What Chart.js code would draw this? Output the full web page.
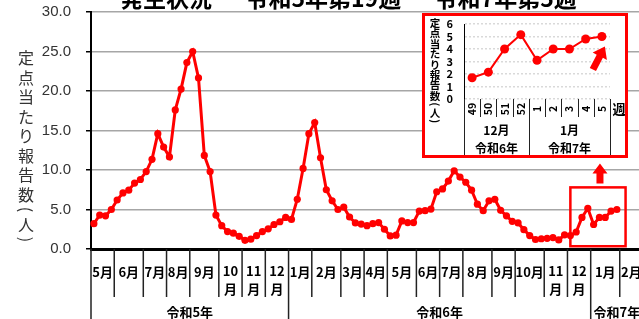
<!DOCTYPE html>
<html>
<head>
<meta charset="utf-8">
<script src="https://cdn.jsdelivr.net/npm/chart.js@4.4.1/dist/chart.umd.min.js"></script>
<style>
  html, body { margin: 0; padding: 0; width: 639px; height: 319px; overflow: hidden; background: #fff; }
  #main { position: absolute; left: 0; top: 0; }
  #insetBox { position: absolute; left: 422px; top: 13px; width: 206px; height: 145px;
              border: 3px solid #ff0000; box-sizing: border-box; background: #fff; }
  #inset { display: block; }
</style>
</head>
<body>
<canvas id="main" width="660" height="319"></canvas>
<div id="insetBox"><canvas id="inset" width="200" height="139"></canvas></div>
<script>
// 定点当たり報告数（人）, 令和5年第19週 ～ 令和7年第5週
const values = [
  3.2, 4.3, 4.2, 5.0, 6.2, 7.1, 7.45, 8.35, 8.8, 9.8,
  11.35, 14.6, 12.9, 11.65, 17.6, 20.25, 23.6, 25.0, 21.65, 11.85,
  9.8, 4.3, 2.95, 2.2, 2.0, 1.6, 1.1, 1.25, 1.7, 2.2,
  2.55, 3.1, 3.45, 4.0,
  3.75, 6.3, 10.2, 14.6, 16.0, 11.55, 7.5, 6.1, 5.0, 5.3,
  4.05, 3.3, 3.15, 2.95, 3.2, 3.35, 2.5, 1.65, 1.75, 3.55,
  3.35, 3.35, 4.8, 4.85, 5.05, 7.25, 7.6, 8.6, 9.9, 9.1,
  8.45, 7.45, 5.67, 4.85, 6.1, 6.3, 4.9, 4.2, 3.5, 3.3,
  2.45, 1.7, 1.2, 1.3, 1.35, 1.45, 1.15, 1.8, 1.7, 2.15,
  4.0, 5.15,
  3.1, 4.0, 4.0, 4.8, 5.0
];

const months = ['5月', '6月', '7月', '8月', '9月', '10月', '11月', '12月',
  '1月', '2月', '3月', '4月', '5月', '6月', '7月', '8月', '9月', '10月', '11月', '12月',
  '1月', '2月'];
const monthWeeks = [4, 5, 4, 4, 5, 4, 4, 4,
  4, 5, 4, 4, 5, 4, 4, 5, 4, 5, 4, 4,
  5, 4];
const years = ['令和5年', '令和6年', '令和7年'];
const yearWeeks = [34, 52, 9];

const insetWeeks = ['49', '50', '51', '52', '1', '2', '3', '4', '5'];
const insetValues = [1.7, 2.15, 4.0, 5.15, 3.1, 4.0, 4.0, 4.8, 5.0];
const insetMonths = ['12月', '1月'];
const insetMonthWeeks = [4, 5];
const insetYears = ['令和6年', '令和7年'];

const titleText = '発生状況 － 令和5年第19週 － 令和7年第5週';
const yTitle = ['定', '点', '当', 'た', 'り', '報', '告', '数', '(', '人', ')'];

const JP = '"Noto Sans CJK JP", sans-serif';
const RED = '#ff0000';

// one category per week
const labels = [];
months.forEach((m, i) => { for (let j = 0; j < monthWeeks[i]; j++) labels.push(m); });
const series = values.concat(new Array(labels.length - values.length).fill(null));

function stackText(ctx, chars, x, y, pitch, parenPitch) {
  let cy = y;
  chars.forEach((c, i) => {
    const paren = c === '(' || c === ')';
    if (i > 0) {
      const prevParen = chars[i - 1] === '(' || chars[i - 1] === ')';
      cy += (paren || prevParen) ? parenPitch : pitch;
    }
    ctx.save();
    ctx.translate(x, cy);
    if (paren) ctx.rotate(Math.PI / 2);
    ctx.fillText(c, 0, 0);
    ctx.restore();
  });
}

function blockArrow(ctx, tx, ty, fx, fy, headLen, headHalf, shaftHalf) {
  const dx = tx - fx, dy = ty - fy;
  const len = Math.hypot(dx, dy);
  const ux = dx / len, uy = dy / len;
  const nx = -uy, ny = ux;
  const bx = tx - ux * headLen, by = ty - uy * headLen;
  ctx.beginPath();
  ctx.moveTo(tx, ty);
  ctx.lineTo(bx + nx * headHalf, by + ny * headHalf);
  ctx.lineTo(bx + nx * shaftHalf, by + ny * shaftHalf);
  ctx.lineTo(fx + nx * shaftHalf, fy + ny * shaftHalf);
  ctx.lineTo(fx - nx * shaftHalf, fy - ny * shaftHalf);
  ctx.lineTo(bx - nx * shaftHalf, by - ny * shaftHalf);
  ctx.lineTo(bx - nx * headHalf, by - ny * headHalf);
  ctx.closePath();
  ctx.fill();
}

const mainDecor = {
  id: 'mainDecor',
  afterDraw(chart) {
    const ctx = chart.ctx;
    const xs = chart.scales.x, ys = chart.scales.y;
    const band = xs.getPixelForValue(1) - xs.getPixelForValue(0);
    const edge = i => xs.getPixelForValue(i) - band / 2;
    const axisY = chart.chartArea.bottom;
    const H = chart.height;

    ctx.save();
    // title (top part is outside the picture)
    ctx.fillStyle = '#000';
    ctx.font = 'bold 23px ' + JP;
    ctx.textAlign = 'left';
    ctx.textBaseline = 'alphabetic';
    ctx.fillText(titleText, 120, 7);

    // y title, stacked
    ctx.fillStyle = '#333';
    ctx.font = '16px ' + JP;
    ctx.textAlign = 'center';
    ctx.textBaseline = 'middle';
    stackText(ctx, yTitle, 26, 58, 19.5, 15);

    // month row
    ctx.strokeStyle = '#222';
    ctx.lineWidth = 1.5;
    ctx.fillStyle = '#000';
    ctx.font = 'bold 13px ' + JP;
    const yearStarts = [];
    let acc = 0;
    yearWeeks.forEach(n => { yearStarts.push(acc); acc += n; });
    let start = 0;
    months.forEach((m, i) => {
      const x0 = edge(start), x1 = edge(start + monthWeeks[i]);
      const isYear = yearStarts.includes(start);
      ctx.beginPath();
      ctx.moveTo(x0, axisY);
      ctx.lineTo(x0, isYear ? H : 297);
      ctx.stroke();
      const cx = (x0 + x1) / 2;
      if (ctx.measureText(m).width > x1 - x0) {
        ctx.fillText(m.slice(0, -1), cx, 271);
        ctx.fillText('月', cx, 289);
      } else {
        ctx.fillText(m, cx, 272);
      }
      start += monthWeeks[i];
    });
    ctx.beginPath();
    ctx.moveTo(edge(start), axisY);
    ctx.lineTo(edge(start), H);
    ctx.stroke();

    // year row
    years.forEach((y, i) => {
      const x0 = edge(yearStarts[i]), x1 = edge(yearStarts[i] + yearWeeks[i]);
      ctx.fillText(y, (x0 + x1) / 2, 312);
    });

    // highlight of the last weeks + arrow up to the inset
    const n = values.length;
    const rl = xs.getPixelForValue(n - insetValues.length);
    const rr = xs.getPixelForValue(n - 1) + band * 1.5;
    const rt = ys.getPixelForValue(7.8);
    const rb = ys.getPixelForValue(0.35);
    ctx.strokeStyle = RED;
    ctx.lineWidth = 2.5;
    ctx.strokeRect(rl, rt, rr - rl, rb - rt);
    ctx.fillStyle = RED;
    const ax = (rl + rr) / 2 + 2;
    blockArrow(ctx, ax, rt - 24, ax, rt - 4, 10, 7.5, 3.5);
    ctx.restore();
  }
};

new Chart(document.getElementById('main'), {
  type: 'line',
  data: {
    labels: labels,
    datasets: [{
      data: series,
      borderColor: RED,
      backgroundColor: RED,
      borderWidth: 3,
      pointRadius: 3.6,
      pointBorderWidth: 0,
      pointBackgroundColor: RED,
      tension: 0
    }]
  },
  options: {
    responsive: false,
    animation: false,
    layout: { padding: { top: 12, right: 17, bottom: 0, left: 0 } },
    plugins: { legend: { display: false }, tooltip: { enabled: false } },
    scales: {
      x: {
        offset: true,
        grid: { display: false },
        ticks: { display: false },
        border: { display: true, color: '#000', width: 3 },
        afterFit(s) { s.height = 70; }
      },
      y: {
        min: 0,
        max: 30,
        ticks: {
          stepSize: 5,
          callback: v => v.toFixed(1),
          font: { family: '"Liberation Sans", sans-serif', size: 15 },
          color: '#333',
          padding: 15
        },
        grid: { color: '#a6a6a6', lineWidth: 1.5, tickLength: 5, tickColor: '#000' },
        border: { display: true, color: '#000', width: 2 },
        afterFit(s) { s.width = 91; s.paddingTop = 0; s.paddingBottom = 0; }
      }
    }
  },
  plugins: [mainDecor]
});

const insetDecor = {
  id: 'insetDecor',
  afterDraw(chart) {
    const ctx = chart.ctx;
    const xs = chart.scales.x;
    const band = xs.getPixelForValue(1) - xs.getPixelForValue(0);
    const edge = i => xs.getPixelForValue(i) - band / 2;
    const axisY = chart.chartArea.bottom;
    const H = chart.height;

    ctx.save();
    ctx.fillStyle = '#000';
    ctx.textAlign = 'center';
    ctx.textBaseline = 'middle';

    // y title
    ctx.font = 'bold 10.5px ' + JP;
    stackText(ctx, yTitle, 10, 7, 10.4, 8.5);

    // week labels, rotated
    ctx.font = 'bold 10.5px ' + JP;
    insetWeeks.forEach((w, i) => {
      ctx.save();
      ctx.translate(xs.getPixelForValue(i), axisY + 10);
      ctx.rotate(-Math.PI / 2);
      ctx.fillText(w, 0, 0);
      ctx.restore();
    });
    ctx.font = 'bold 13px ' + JP;
    ctx.fillText('週', xs.right + 9, axisY + 10);

    // separators
    ctx.strokeStyle = '#222';
    ctx.lineWidth = 1;
    const monthStarts = [0];
    insetMonthWeeks.forEach(n => monthStarts.push(monthStarts[monthStarts.length - 1] + n));
    for (let i = 0; i <= insetWeeks.length; i++) {
      const x = Math.round(edge(i)) + 0.5;
      ctx.beginPath();
      ctx.moveTo(x, axisY);
      ctx.lineTo(x, monthStarts.includes(i) ? H : axisY + 18);
      ctx.stroke();
    }

    // month and year rows
    ctx.font = 'bold 12px ' + JP;
    insetMonths.forEach((m, i) => {
      const cx = (edge(monthStarts[i]) + edge(monthStarts[i + 1])) / 2;
      ctx.fillText(m, cx, axisY + 31);
      ctx.fillText(insetYears[i], cx, axisY + 49);
    });

    // arrow at the latest week
    const pts = chart.getDatasetMeta(0).data;
    const last = pts[pts.length - 1];
    ctx.fillStyle = RED;
    blockArrow(ctx, last.x + 3, last.y + 10, last.x - 9, last.y + 33, 11, 8, 3.5);
    ctx.restore();
  }
};

new Chart(document.getElementById('inset'), {
  type: 'line',
  data: {
    labels: insetWeeks,
    datasets: [{
      data: insetValues,
      borderColor: RED,
      backgroundColor: RED,
      borderWidth: 2,
      pointRadius: 4.5,
      pointBorderWidth: 0,
      pointBackgroundColor: RED,
      tension: 0
    }]
  },
  options: {
    responsive: false,
    animation: false,
    layout: { padding: { top: 8, right: 15, bottom: 0, left: 0 } },
    plugins: { legend: { display: false }, tooltip: { enabled: false } },
    scales: {
      x: {
        offset: true,
        grid: { display: false },
        ticks: { display: false },
        border: { display: false },
        afterFit(s) { s.height = 56; }
      },
      y: {
        min: 0,
        max: 6,
        ticks: {
          stepSize: 1,
          autoSkip: false,
          font: { family: JP, size: 11, weight: 'bold' },
          color: '#000',
          padding: 11
        },
        grid: { color: '#d9d9d9', lineWidth: 1.5, drawTicks: false },
        border: { display: true, color: '#000', width: 1, dash: [2, 2] },
        afterFit(s) { s.width = 39; s.paddingTop = 0; s.paddingBottom = 0; }
      }
    }
  },
  plugins: [insetDecor]
});
</script>
</body>
</html>
